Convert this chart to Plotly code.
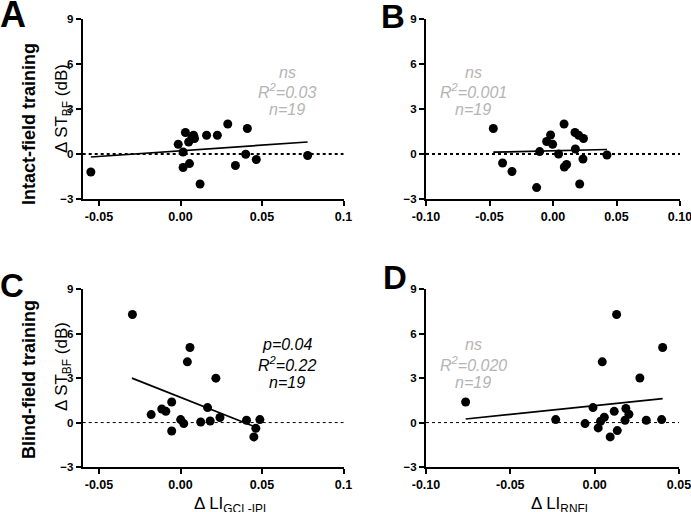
import plotly.graph_objects as go

W, H = 691, 512

# ---- data ----
a_x = [-0.055, -0.0014, 0.003, 0.0016, 0.0016, 0.005, 0.0055, 0.008, 0.0086, 0.007,
       0.012, 0.016, 0.0226, 0.029, 0.0337, 0.040, 0.041, 0.0465, 0.078]
a_y = [-1.2, 0.65, 1.43, 0.13, -0.9, 0.8, -0.64, 1.25, 1.03, 1.1,
       -2.0, 1.25, 1.25, 2.0, -0.77, -0.02, 1.7, -0.37, -0.1]
a_fit_x = [-0.055, 0.078]
a_fit_y = [-0.2, 0.8]

b_x = [-0.047, -0.0397, -0.0323, -0.0129, -0.0105, -0.005, -0.0019, -0.0003, 0.0044, 0.0087,
       0.0089, 0.0107, 0.0173, 0.0176, 0.0202, 0.021, 0.024, 0.0236, 0.0425]
b_y = [1.7, -0.6, -1.17, -2.24, 0.16, 0.83, 1.27, 0.65, 0.0, 2.0,
       -0.87, -0.7, 1.43, 0.33, 1.25, -2.0, 1.03, -0.33, -0.07]
b_fit_x = [-0.047, 0.0425]
b_fit_y = [0.12, 0.30]

c_x = [-0.0295, 0.0058, 0.0042, 0.0217, -0.018, -0.0115, -0.009, -0.0054, -0.0054, 0.0001,
       0.002, 0.0124, 0.0166, 0.0182, 0.0242, 0.0405, 0.0487, 0.0462, 0.045]
c_y = [7.3, 5.07, 4.1, 3.0, 0.54, 0.92, 0.76, 1.39, -0.57, 0.2,
       -0.07, 0.04, 1.01, 0.11, 0.34, 0.16, 0.2, -0.39, -0.97]
c_fit_x = [-0.0298, 0.0452]
c_fit_y = [3.0, -0.27]

d_x = [-0.0765, -0.0231, -0.0057, -0.001, 0.0021, 0.0035, 0.0045, 0.0057, 0.0092, 0.0116,
       0.013, 0.0134, 0.018, 0.0185, 0.0203, 0.0268, 0.0306, 0.0397, 0.0403]
d_y = [1.39, 0.2, -0.07, 1.01, -0.36, 0.09, 4.1, 0.36, -0.97, 0.76,
       7.3, -0.54, 0.16, 0.95, 0.56, 3.01, 0.16, 0.2, 5.07]
d_fit_x = [-0.0765, 0.0403]
d_fit_y = [0.24, 1.62]

y_ticks = [-3, 0, 3, 6, 9]
x_ticks_ac = [-0.05, 0.00, 0.05, 0.10]
x_labels_ac = ["-0.05", "0.00", "0.05", "0.1"]
x_ticks_b = [-0.10, -0.05, 0.00, 0.05, 0.10]
x_labels_b = ["-0.10", "-0.05", "0.00", "0.05", "0.10"]
x_ticks_d = [-0.10, -0.05, 0.00, 0.05]
x_labels_d = ["-0.10", "-0.05", "0.00", "0.05"]

stats_a = ["ns", "R<sup>2</sup>=0.03", "n=19"]
stats_b = ["ns", "R<sup>2</sup>=0.001", "n=19"]
stats_c = ["p=0.04", "R<sup>2</sup>=0.22", "n=19"]
stats_d = ["ns", "R<sup>2</sup>=0.020", "n=19"]

# ---- layout helpers ----
def px(x):
    return x / W

def py(y):
    return 1 - y / H

FONT = "Liberation Sans, Arial, sans-serif"
GRAY = "#b4b4b4"
EPS = 1e-6  # keeps the end ticks inside the range

fig = go.Figure()

panels = [
    ("", a_x, a_y, a_fit_x, a_fit_y, [-0.06, 0.10], x_ticks_ac, x_labels_ac, (82.7, 343.5), (19, 199), 2),
    ("2", b_x, b_y, b_fit_x, b_fit_y, [-0.10, 0.10], x_ticks_b, x_labels_b, (426, 680), (19, 199), 2),
    ("3", c_x, c_y, c_fit_x, c_fit_y, [-0.06, 0.10], x_ticks_ac, x_labels_ac, (82.7, 343.5), (289.3, 467), 1),
    ("4", d_x, d_y, d_fit_x, d_fit_y, [-0.10, 0.05], x_ticks_d, x_labels_d, (426, 679), (289.3, 467), 1),
]

layout = {}
shapes = []
for key, xs, ys, fx, fy, xr, xt, xl, xd, yd, zw in panels:
    xa = "x" + key
    ya = "y" + key
    fig.add_trace(go.Scatter(x=fx, y=fy, mode="lines", xaxis=xa, yaxis=ya,
                             line=dict(color="black", width=1.7), showlegend=False,
                             hoverinfo="skip"))
    fig.add_trace(go.Scatter(x=xs, y=ys, mode="markers", xaxis=xa, yaxis=ya,
                             marker=dict(color="black", size=9), showlegend=False))
    shapes.append(dict(type="line", xref=xa + " domain", yref=ya, x0=0, x1=1, y0=0, y1=0,
                       line=dict(color="black", width=zw, dash="dot"), layer="below"))
    common = dict(showgrid=False, zeroline=False, showline=True, linecolor="black",
                  linewidth=2.2, ticks="outside", ticklen=5, tickwidth=2, tickcolor="black",
                  automargin=False, ticklabeloverflow="allow",
                  tickfont=dict(family=FONT, size=12.5, color="black", weight="bold"))
    layout["xaxis" + key] = dict(common, domain=[px(xd[0]), px(xd[1])],
                                 range=[xr[0] - EPS, xr[1] + EPS],
                                 tickvals=xt, ticktext=xl, anchor=ya)
    layout["yaxis" + key] = dict(common, domain=[py(yd[1]), py(yd[0])], range=[-3, 9],
                                 tickvals=y_ticks, anchor=xa,
                                 tickfont=dict(family=FONT, size=11.5, color="black", weight="bold"))

annotations = []

def ann(text, x, y, size, color="black", bold=False, italic=False, angle=0, xanchor="center"):
    annotations.append(dict(text=text, x=px(x), y=py(y), xref="paper", yref="paper",
                            showarrow=False, textangle=angle, xanchor=xanchor, yanchor="middle",
                            font=dict(family=FONT, size=size, color=color,
                                      weight="bold" if bold else "normal",
                                      style="italic" if italic else "normal")))

# panel letters
ann("A", 13, 14, 36, bold=True)
ann("B", 393, 16, 33, bold=True)
ann("C", 12, 285, 33, bold=True)
ann("D", 395, 277, 33, bold=True)

# row labels
ann("Intact-field training", 29, 124, 18, bold=True, angle=-90)
ann("\u0394 ST<sub>BF</sub> (dB)", 63, 109, 17, angle=-90)
ann("Blind-field training", 29, 380, 18, bold=True, angle=-90)
ann("\u0394 ST<sub>BF</sub> (dB)", 63, 367, 17, angle=-90)

# x titles
ann("\u0394 LI<sub>GCL-IPL</sub>", 232, 505, 17)
ann("\u0394 LI<sub>RNFL</sub>", 561.5, 505, 17)

# stats
for lines, cx, ys, col in [
    (stats_a, 287, (72, 91, 109.5), GRAY),
    (stats_b, 473, (72, 91, 109.5), GRAY),
    (stats_c, 287, (344.3, 364, 382.3), "black"),
    (stats_d, 473, (344.3, 364, 382.3), GRAY),
]:
    for t, yy in zip(lines, ys):
        ann(t, cx, yy, 16, color=col, italic=True)

fig.update_layout(width=W, height=H, margin=dict(l=0, r=0, t=0, b=0, autoexpand=False),
                  paper_bgcolor="white", plot_bgcolor="white",
                  shapes=shapes, annotations=annotations, **layout)

fig.write_html("out.html", config={"displayModeBar": False},
               post_script="document.body.style.margin='0';document.body.style.overflow='hidden';")
